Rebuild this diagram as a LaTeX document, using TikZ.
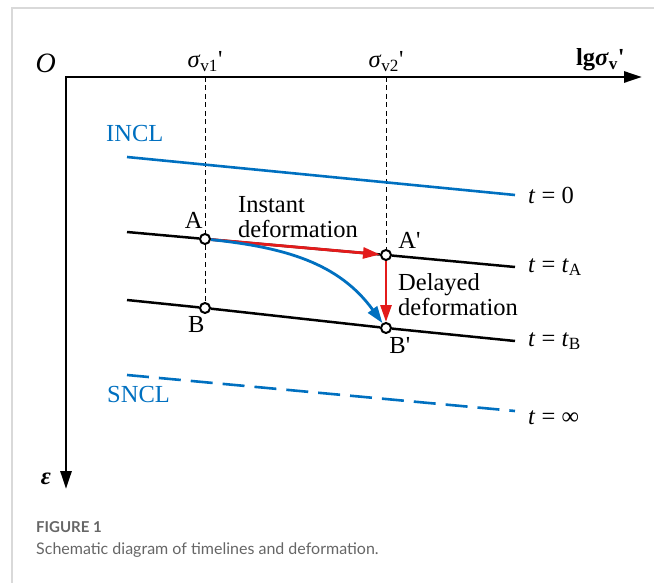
\documentclass[tikz,border=0pt]{standalone}
\usepackage{fontspec}
\setmainfont{Liberation Serif}
\newfontfamily\capfont{Lato}
\usepackage{xcolor}
\definecolor{inclblue}{HTML}{0070C0}
\definecolor{defred}{HTML}{E31B1B}
\definecolor{capgray}{HTML}{666666}
\definecolor{cardgray}{HTML}{D9D9D9}
\usepackage{tikz}
\usetikzlibrary{arrows.meta,positioning,calc}

\begin{document}
\begin{tikzpicture}[x=1pt, y=-1pt,
  axis/.style={line width=2.8pt, line join=miter,
               {Triangle[length=18pt,width=11pt]}-{Triangle[length=18pt,width=11pt]}},
  ncl/.style={line width=2.6pt, color=inclblue},
  tline/.style={line width=2.5pt},
  guide/.style={line width=0.9pt, dash pattern=on 5pt off 3.5pt},
  pt/.style={circle, draw, line width=2pt, fill=white, inner sep=0pt,
             minimum size=10pt},
  defarr/.style={line width=2.8pt, color=defred,
                 -{Triangle[length=17pt,width=11pt]}},
  curvarr/.style={line width=2.8pt, color=inclblue,
                  -{Triangle[length=17pt,width=11pt]}},
  lbl/.style={font=\fontsize{24.5}{25}\selectfont, inner sep=1pt},
  tlbl/.style={lbl, right=12pt of #1},
  caphead/.style={font=\capfont\bfseries\fontsize{15}{17}\selectfont,
                  text=capgray, inner sep=0pt},
  capbody/.style={font=\capfont\fontsize{16}{18}\selectfont,
                  text=capgray, inner sep=0pt}
]
  \useasboundingbox (0,0) rectangle (654,583);
  % card frame
  \draw[cardgray, line width=1.5pt] (12,583) -- (12,8) -- (654,8);

  % axes
  \coordinate (orig) at (66,77);
  \coordinate (xend) at (642,77);
  \coordinate (yend) at (66,489);
  \draw[axis] (yend) -- (orig) -- (xend);
  \node[lbl, font=\fontsize{28}{30}\selectfont, above left=3pt and 9pt of orig] (olbl) {\textit{O}};
  \node[lbl, above left=5pt and 16pt of xend] (xlbl)
    {\textbf{lg\textit{σ}\textsubscript{v}\textquotesingle}};
  \node[lbl, above left=3pt and 14pt of yend] (ylbl) {\textbf{\textit{ε}}};

  % state points
  \node[pt] (A)  at (205,239) {};
  \node[pt] (Ap) at (386,255) {};
  \node[pt] (B)  at (205,308) {};
  \node[pt] (Bp) at (386,328) {};

  % stress marks
  \coordinate (s1) at (205,77);
  \coordinate (s2) at (386,77);
  \node[lbl, above=4pt of s1] (s1lbl) {\textit{σ}\textsubscript{v1}\textquotesingle};
  \node[lbl, above=4pt of s2] (s2lbl) {\textit{σ}\textsubscript{v2}\textquotesingle};
  \draw[guide] (s1) -- (A);
  \draw[guide] (A) -- (B);
  \draw[guide] (s2) -- (Ap);

  % compression lines
  \coordinate (i0) at (127,157);  \coordinate (i1) at (515,195);
  \coordinate (a0) at (127,232);  \coordinate (a1) at (515,267);
  \coordinate (b0) at (127,300);  \coordinate (b1) at (515,341);
  \coordinate (n0) at (127,375);  \coordinate (n1) at (515,411);
  \draw[ncl] (i0) -- (i1);
  \draw[tline] (a0) -- (A) -- (Ap) -- (a1);
  \draw[tline] (b0) -- (B) -- (Bp) -- (b1);
  \draw[ncl, dash pattern=on 22pt off 10pt] (n0) -- (n1);

  \node[lbl, text=inclblue, above right=14pt and -22pt of i0] (incl) {INCL};
  \node[lbl, text=inclblue, below right=10pt and -21pt of n0] (sncl) {SNCL};
  \node[tlbl=i1] (t0) {\textit{t} = 0};
  \node[tlbl=a1] (tA) {\textit{t} = \textit{t}\textsubscript{A}};
  \node[tlbl=b1] (tB) {\textit{t} = \textit{t}\textsubscript{B}};
  \node[tlbl=n1, yshift=-7pt] (tinf) {\textit{t} = ∞};

  % deformation paths
  \draw[defarr] (A) -- (Ap);
  \draw[defarr] (Ap) -- (Bp);
  \draw[curvarr] (A) to[out=-6, in=126] (Bp);

  \node[lbl, above left=5pt and -3pt of A] (Albl) {A};
  \node[lbl, above right=1pt and 7pt of Ap] (Aplbl) {A\textquotesingle};
  \node[lbl, below left=3pt and -5pt of B] (Blbl) {B};
  \node[lbl, below right=4pt and -2pt of Bp] (Bplbl) {B\textquotesingle};
  \node[lbl, align=left, right=26pt of A, anchor=south west] (inst)
    {Instant\\deformation};
  \coordinate (mid) at ($(Ap)!0.5!(Bp)$);
  \node[lbl, align=left, right=11pt of mid, yshift=-3pt] (dely)
    {Delayed\\deformation};

  % caption
  \node[caphead, anchor=west] (fig) at (36,527) {FIGURE 1};
  \node[capbody, anchor=west] (cap) at (36,550)
    {Schematic diagram of timelines and deformation.};
\end{tikzpicture}
\end{document}
